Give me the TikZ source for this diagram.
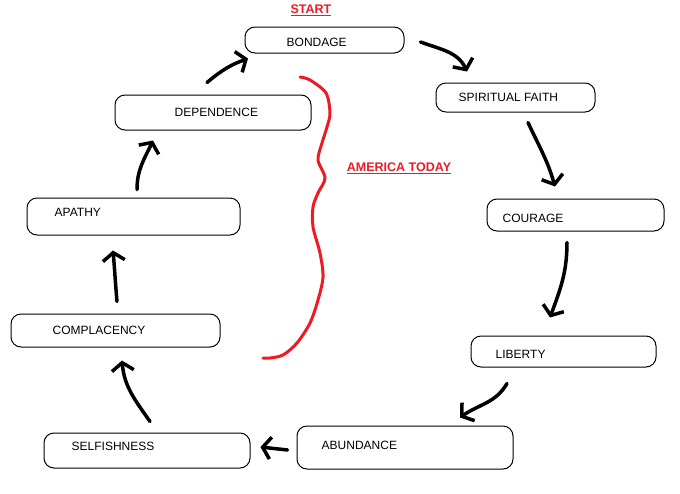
\documentclass[tikz,border=0pt]{standalone}
\usepackage{fontspec}
\setmainfont{Liberation Sans}
\usetikzlibrary{positioning, arrows.meta}
\definecolor{paintred}{RGB}{237,28,36}

\begin{document}
\begin{tikzpicture}[
  x=1pt, y=1pt,
  box/.style={draw, line width=1pt, rounded corners=10pt, inner sep=0pt},
  word/.style={inner sep=0pt, anchor=west, font=\fontsize{12}{14}\selectfont},
  hand/.style={-{Straight Barb[length=8pt, width=22pt]}, line width=3.5pt,
               line cap=round, line join=round},
  redtitle/.style={inner sep=0pt, text=paintred, font=\bfseries\fontsize{12.5}{14}\selectfont}
]
  \fill[white] (0,0) rectangle (680,-493);

  % the boxes of the cycle
  \node[box, minimum width=159pt, minimum height=26pt] (bondage) at (324.5,-40) {};
  \node[box, minimum width=159pt, minimum height=29pt] (faith) at (515.5,-97.5) {};
  \node[box, minimum width=177pt, minimum height=32pt] (courage) at (575.5,-215) {};
  \node[box, minimum width=185pt, minimum height=31pt] (liberty) at (563.5,-351.5) {};
  \node[box, minimum width=216pt, minimum height=43pt] (abundance) at (405,-447.5) {};
  \node[box, minimum width=206pt, minimum height=35pt] (selfishness) at (147,-450.5) {};
  \node[box, minimum width=209pt, minimum height=33pt] (complacency) at (115.5,-330.5) {};
  \node[box, minimum width=213pt, minimum height=37pt] (apathy) at (133.5,-216.5) {};
  \node[box, minimum width=196pt, minimum height=35pt] (dependence) at (213,-112.5) {};

  % their words
  \node[word] (bondagetxt) at ([xshift=42pt,yshift=-2pt]bondage.west) {BONDAGE};
  \node[word] (faithtxt) at ([xshift=23pt]faith.west) {SPIRITUAL FAITH};
  \node[word] (couragetxt) at ([xshift=16pt,yshift=-3pt]courage.west) {COURAGE};
  \node[word] (libertytxt) at ([xshift=25pt,yshift=-2.5pt]liberty.west) {LIBERTY};
  \node[word] (abundancetxt) at ([xshift=25pt,yshift=2.5pt]abundance.west) {ABUNDANCE};
  \node[word] (selfishnesstxt) at ([xshift=28pt,yshift=4.5pt]selfishness.west) {SELFISHNESS};
  \node[word] (complacencytxt) at ([xshift=42pt]complacency.west) {COMPLACENCY};
  \node[word] (apathytxt) at ([xshift=28pt,yshift=4.5pt]apathy.west) {APATHY};
  \node[word] (dependencetxt) at ([xshift=60pt]dependence.west) {DEPENDENCE};

  \node[redtitle] (start) at (311,-10) {\underline{START}};
  \node[redtitle] (today) at (399,-168) {\underline{AMERICA TODAY}};

  % hand drawn arrows
  \draw[hand] ([shift={(16,-2)}]bondage.east) to[out=-20, in=115] ([shift={(-48.5,11)}]faith.north);
  \draw[hand] ([shift={(12.5,-10)}]faith.south) to[out=-65, in=106] ([shift={(-20.5,12)}]courage.north);
  \draw[hand] ([shift={(-8.5,-11)}]courage.south) to[out=-90, in=70] ([shift={(-13.5,18)}]liberty.north);
  \draw[hand] ([shift={(-56.5,-16)}]liberty.south) to[out=-120, in=35] ([shift={(55,8)}]abundance.north);
  \draw[hand] ([shift={(-9,-2.5)}]abundance.west) -- ([shift={(10,3.5)}]selfishness.east);
  \draw[hand] ([shift={(3,11)}]selfishness.north) to[out=125, in=-85] ([shift={(6.5,-13)}]complacency.south);
  \draw[hand] ([shift={(1.5,12)}]complacency.north) to[out=95, in=-85] ([shift={(-20.5,-15)}]apathy.south);
  \draw[hand] ([shift={(3.5,8)}]apathy.north) to[out=90, in=-115] ([shift={(-60,-10)}]dependence.south);
  \draw[hand] ([shift={(-6,12)}]dependence.north) to[out=40, in=-160] ([shift={(-76.5,-5)}]bondage.south);

  % red brace of today
  \draw[paintred, line width=3pt, line cap=round, line join=round] plot[smooth] coordinates {
    (300,-77) (310,-80) (326,-93) (330,-113) (327,-127) (322,-143) (318,-160)
    (325,-178) (318,-193) (313,-207) (313,-227) (320,-253) (323,-277) (318,-300)
    (310,-323) (297,-343) (283,-355) (270,-358) (263,-358)};
\end{tikzpicture}
\end{document}
